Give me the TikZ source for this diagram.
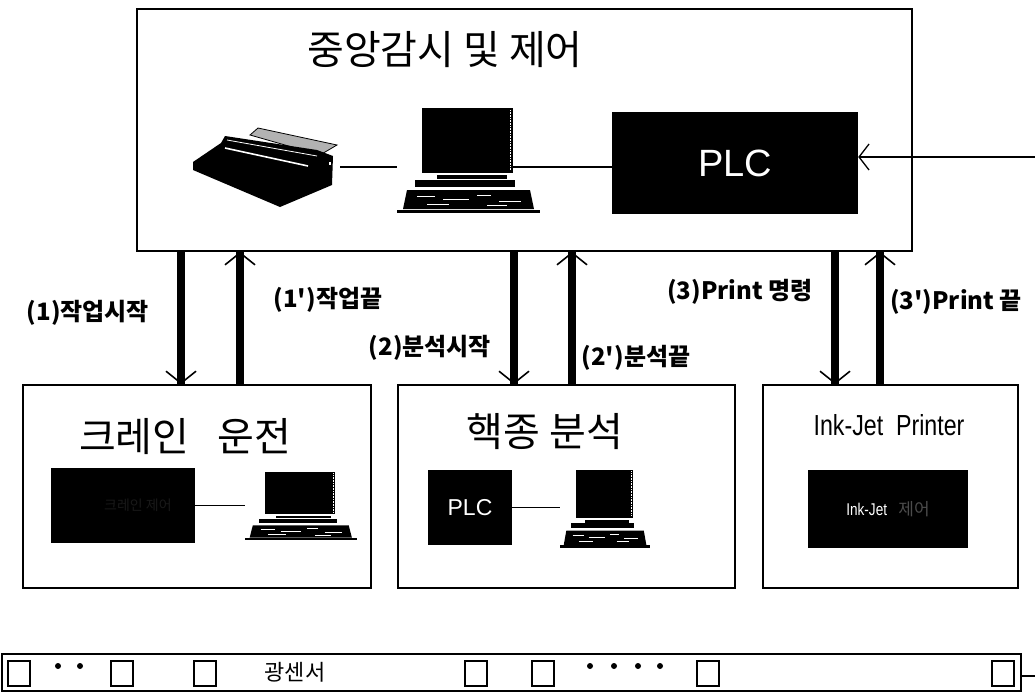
\documentclass[tikz,border=0pt]{standalone}
\usepackage{fontspec}
\setmainfont{Liberation Sans}
\newfontfamily\kr{Noto Sans CJK KR}
\newfontfamily\narrow{Liberation Sans}[FakeStretch=0.8]
\usetikzlibrary{arrows.meta,positioning}

% desk computer, frame 143 x 105
\tikzset{pc/.pic={
  \fill (25,0) rectangle (116,65);
  \draw[white,line width=0.6pt,densely dotted] (113,2) -- (113,62);
  \fill (40,67) rectangle (110,71);
  \fill (18,72) rectangle (118,79);
  \fill (10,82) -- (133,82) -- (137,101) -- (6,101) -- cycle;
  \draw[white,line width=1pt] (20,88) -- (38,88) (46,91) -- (72,91) (80,87) -- (94,87) (102,93) -- (124,93) (30,96) -- (52,96) (90,97) -- (110,97);
  \fill (0,102) rectangle (143,105);
  \coordinate (-w) at (0,59);
  \coordinate (-e) at (116,59);
}}
% line printer, frame 145 x 80
\tikzset{lineprinter/.pic={
  \filldraw[fill=gray!60,draw=black,line width=0.8pt] (57,7) -- (65,0) -- (144,17) -- (127,27) -- cycle;
  \fill (0,34) -- (28,15) -- (32,8) -- (124,22) -- (140,28) -- (139,57) -- (87,79) -- (0,42) -- cycle;
  \draw[white,line width=0.8pt] (34,12) -- (124,28);
  \draw[white,line width=1.6pt] (32,20) -- (115,38);
  \fill[white] (136,34) rectangle (138,37);
  \coordinate (-e) at (147,39);
}}

\begin{document}
\begin{tikzpicture}[x=1pt,y=-1pt,
  box/.style={draw,line width=1.6pt,inner sep=0pt},
  panel/.style={fill=black,text=white,inner sep=0pt},
  title/.style={font=\kr\fontsize{40}{40}\selectfont},
  link/.style={line width=1.3pt},
  sig/.style={line width=8pt},
  tip/.style={line width=1.6pt,-{Straight Barb[length=12pt,width=30pt]}},
  lab/.style={font=\kr\bfseries\fontsize{24}{24}\selectfont},
  cell/.style={draw,line width=2pt,minimum width=22pt,minimum height=25pt,inner sep=0pt}]
\useasboundingbox (0,0) rectangle (1035,699);

% central monitoring
\node[box,minimum width=775pt,minimum height=242pt] (center) at (524.5,130) {};
\node[title] (ctitle) at (445,50) {중앙감시 및 제어};
\pic (prn) at (193,128) {lineprinter};
\pic (pc) at (397,108) {pc};
\node[panel,minimum width=246pt,minimum height=102pt,font=\fontsize{38}{38}\selectfont] (plc) at (735,163) {PLC};
\draw[link] (prn-e) -- (prn-e -| pc-w);
\draw[link] (pc-e) -- (pc-e -| plc.west);
\coordinate (feed) at (1035,157);
\draw[link,-{Straight Barb[length=10pt,width=26pt]}] (feed) -- (feed -| plc.east);

% crane
\node[box,minimum width=348pt,minimum height=203pt] (crane) at (197,486.5) {};
\node[title] (crtitle) at (185,437) {크레인\hspace{28pt}운전};
\node[panel,minimum width=144pt,minimum height=75pt,text=black!90!white,font=\kr\fontsize{14}{14}\selectfont] (crpanel) at (123,505.5) {\hspace{30pt}크레인 제어};
\pic[xscale=0.78,yscale=0.65] (crpc) at (245,472) {pc};
\draw[link] (crpanel.east) -- (crpanel.east -| crpc-w);

% nuclide analysis
\node[box,minimum width=337pt,minimum height=203pt] (nuc) at (566.5,486.5) {};
\node[title] (nutitle) at (545,432) {핵종 분석};
\node[panel,minimum width=84pt,minimum height=75pt,font=\fontsize{23}{23}\selectfont] (nuplc) at (470,507.5) {PLC};
\pic[xscale=0.63,yscale=0.74] (nupc) at (560,470) {pc};
\draw[link] (nuplc.east) -- (nuplc.east -| nupc-w);

% ink-jet printer
\node[box,minimum width=255pt,minimum height=203pt] (ink) at (890.5,486.5) {};
\node[font=\narrow\fontsize{29}{29}\selectfont] (intitle) at (889,425) {Ink-Jet\ \ Printer};
\node[panel,minimum width=160pt,minimum height=78pt,font=\narrow\fontsize{17}{17}\selectfont] (inpanel) at (888,509) {Ink-Jet\ \ \ {\kr\color{black!70!white}제어}};

% signals
\draw[sig] (center.south -| 181,0) -- (crane.north -| 181,0);
\draw[tip] (center.south -| 181,0) -- (crane.north -| 181,0);
\draw[sig] (crane.north -| 240,0) -- (center.south -| 240,0);
\draw[tip] (crane.north -| 240,0) -- (center.south -| 240,0);
\draw[sig] (center.south -| 514,0) -- (nuc.north -| 514,0);
\draw[tip] (center.south -| 514,0) -- (nuc.north -| 514,0);
\draw[sig] (nuc.north -| 572,0) -- (center.south -| 572,0);
\draw[tip] (nuc.north -| 572,0) -- (center.south -| 572,0);
\draw[sig] (center.south -| 835,0) -- (ink.north -| 835,0);
\draw[tip] (center.south -| 835,0) -- (ink.north -| 835,0);
\draw[sig] (ink.north -| 880,0) -- (center.south -| 880,0);
\draw[tip] (ink.north -| 880,0) -- (center.south -| 880,0);
\node[lab] (l1) at (88,313) {(1)작업시작};
\node[lab] (l1e) at (328,300) {(1')작업끝};
\node[lab] (l2) at (430,348) {(2)분석시작};
\node[lab] (l2e) at (636,358) {(2')분석끝};
\node[lab] (l3) at (740,292) {(3)Print 명령};
\node[lab] (l3e) at (956,302) {(3')Print 끝};

% optical sensors
\node[box,minimum width=1019pt,minimum height=37pt] (sensors) at (511.5,672.5) {};
\foreach \x [count=\i] in {19,122,205,476,543,708,1003}
  \node[cell] (s\i) at (\x,673) {};
\foreach \x in {58,80,590,614,638,660}
  \fill (\x,666) circle (3);
\node[font=\kr\fontsize{22}{22}\selectfont] (stext) at (295,672) {광센서};
\coordinate (tail) at (1035,676);
\draw[link] (sensors.east |- tail) -- (tail);
\end{tikzpicture}
\end{document}
